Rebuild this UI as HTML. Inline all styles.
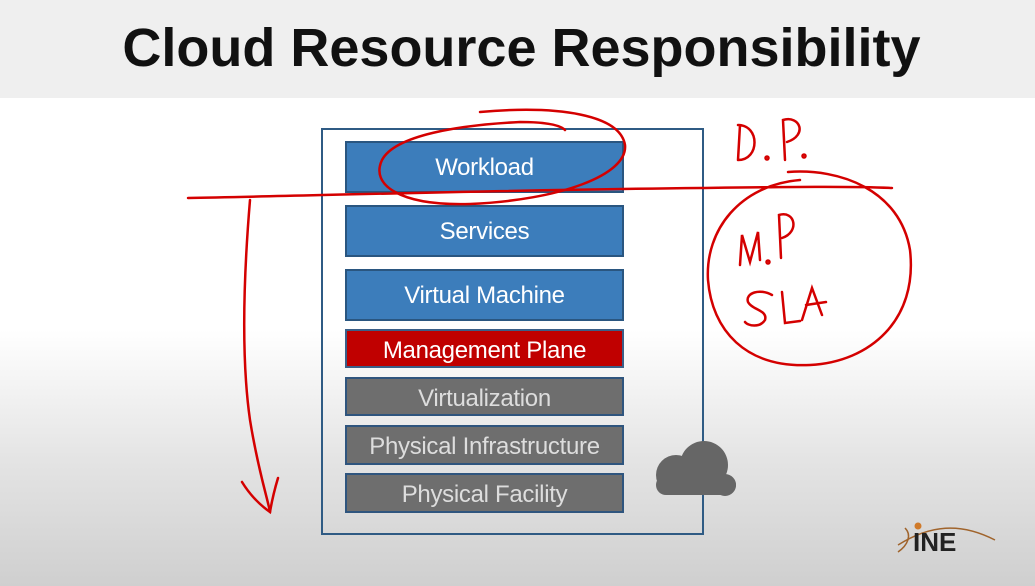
<!DOCTYPE html>
<html><head><style>
body{margin:0;width:1035px;height:586px;overflow:hidden;font-family:"Liberation Sans",sans-serif;position:relative;background:linear-gradient(#fff 0px,#fff 330px,#e4e4e4 460px,#cfcfcf 586px);}
.hdr{position:absolute;left:0;top:0;width:1035px;height:98px;background:#efefef;}
.hdr div{position:absolute;left:0;width:1035px;top:17px;text-align:center;font-weight:bold;font-size:54px;color:#111;letter-spacing:0px;padding-left:4px}
.cont{position:absolute;left:321px;top:128px;width:379px;height:403px;border:2px solid #2f5b84;}
.b{position:absolute;left:345px;width:275px;border:2px solid #2a5680;color:#fff;text-align:center;font-size:24px;box-sizing:content-box;letter-spacing:-0.3px}
.blue{background:#3c7dbb}
.red{background:#c00000;border-color:#3a5f88}
.gray{background:#6e6e6e;border-color:#2f557e;color:#ddd}
</style></head><body>
<div class="hdr"><div>Cloud Resource Responsibility</div></div>
<div class="cont"></div>
<div class="b blue" style="top:141px;height:48px;line-height:50px">Workload</div>
<div class="b blue" style="top:205px;height:48px;line-height:50px">Services</div>
<div class="b blue" style="top:269px;height:48px;line-height:50px">Virtual Machine</div>
<div class="b red" style="top:329px;height:35px;line-height:39px">Management Plane</div>
<div class="b gray" style="top:377px;height:35px;line-height:39px">Virtualization</div>
<div class="b gray" style="top:425px;height:36px;line-height:40px">Physical Infrastructure</div>
<div class="b gray" style="top:473px;height:36px;line-height:40px">Physical Facility</div>
<svg style="position:absolute;left:0;top:0" width="1035" height="586">
<g fill="#666"><circle cx="676" cy="475" r="20"/><circle cx="704" cy="465" r="24"/><circle cx="725" cy="485" r="11"/><rect x="656" y="475" width="80" height="20" rx="10"/></g>
<g fill="none" stroke="#d40000" stroke-width="2.5" stroke-linecap="round">
<path d="M188 198 C300 196 500 190 700 188 C780 187 850 186 892 188"/>
<path d="M480 112 C560 105 620 115 625 145 C628 175 560 200 470 204 C400 206 370 185 382 160 C395 135 460 125 520 122 C545 122 560 125 565 130"/>
<path d="M250 200 C245 260 240 350 250 420 C258 470 268 500 270 512"/>
<path d="M242 482 C250 495 260 505 270 512 C272 500 275 488 278 478"/>
<path d="M740 125 L738 160 M738 125 C760 125 760 160 738 160"/>
<circle cx="767" cy="158" r="1.5"/>
<path d="M785 160 L783 120 C800 115 808 135 787 142"/>
<circle cx="804" cy="156" r="1.5"/>
<path d="M788 172 C840 168 900 190 910 250 C918 320 870 362 810 365 C745 368 712 330 708 280 C705 230 740 185 800 180"/>
<path d="M740 265 L742 235 L750 262 L758 232 L760 260"/>
<circle cx="768" cy="262" r="1.5"/>
<path d="M781 258 L779 215 C795 210 800 232 782 238"/>
<path d="M772 295 C760 288 745 293 748 302 C752 310 768 310 765 320 C760 328 748 326 745 322"/>
<path d="M782 292 L785 323 L800 321"/>
<path d="M802 320 L812 288 L822 315 M806 305 L826 302"/>
</g>
<g>
<path d="M898 545 C930 525 960 522 995 540" fill="none" stroke="#a0642c" stroke-width="1.5"/>
<path d="M905 528 C912 535 908 545 898 552" fill="none" stroke="#a0642c" stroke-width="1.5"/>
<circle cx="918" cy="526" r="3.5" fill="#d07a2a"/>
<text x="913" y="551" font-family="Liberation Sans" font-weight="bold" font-size="26" fill="#222">INE</text>
</g>
</svg>
</body></html>
